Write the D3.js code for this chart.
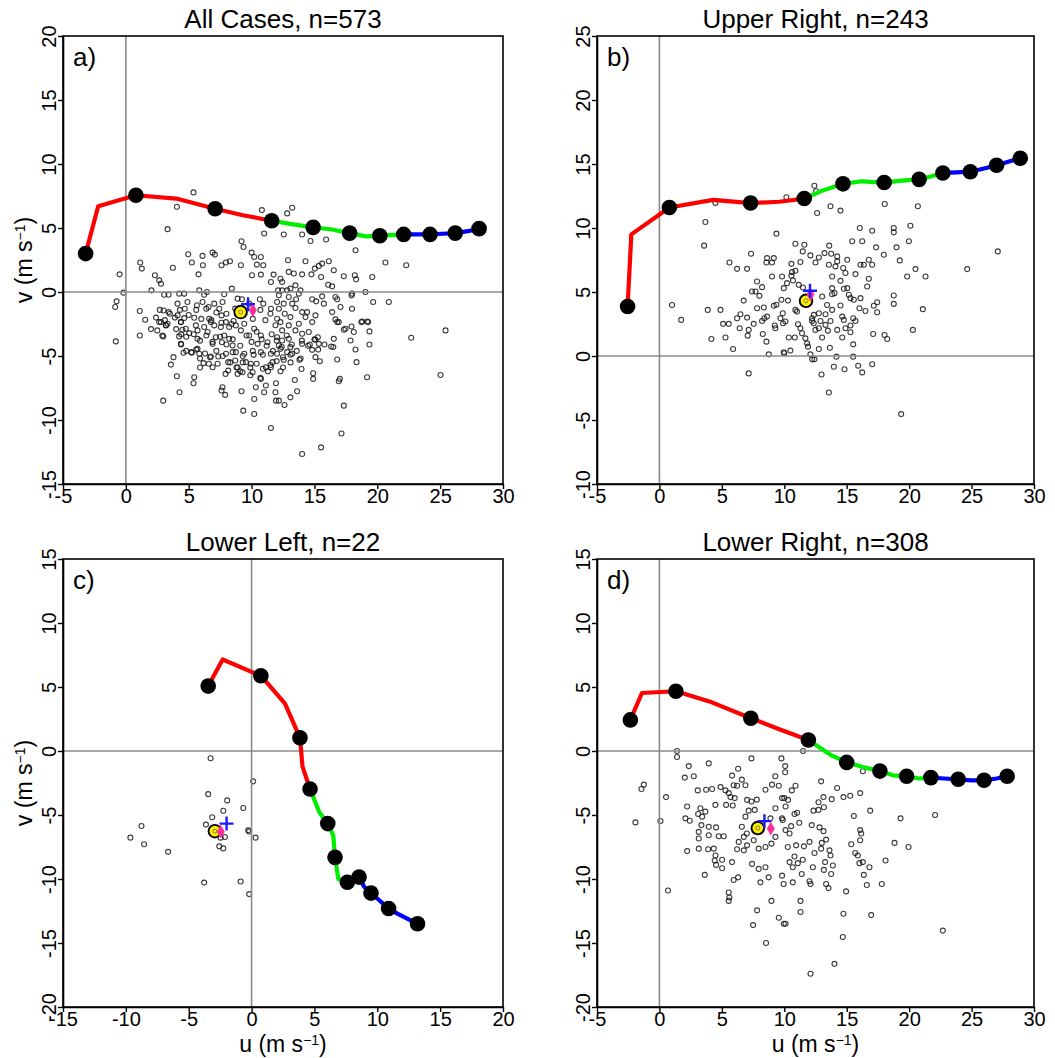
<!DOCTYPE html>
<html>
<head>
<meta charset="utf-8">
<script src="https://cdn.jsdelivr.net/npm/d3@7"></script>
<style>
  body { margin: 0; background: #fff; }
  svg { display: block; }
  text { font-family: "Liberation Sans", Arial, Helvetica, sans-serif; fill: #000; }
</style>
</head>
<body>
<svg id="chart" width="1055" height="1058"></svg>
<script>
// ---- panel text ----
const titles = ["All Cases, n=573", "Upper Right, n=243", "Lower Left, n=22", "Lower Right, n=308"];
const panelTags = ["a)", "b)", "c)", "d)"];

// ---- axis ranges and ticks (m/s) ----
const xDomains = [[-5, 30], [-5, 30], [-15, 20], [-5, 30]];
const yDomains = [[-15, 20], [-10, 25], [-20, 15], [-20, 15]];
const xTicksAll = [-5, 0, 5, 10, 15, 20, 25, 30];
const xTicksLL = [-15, -10, -5, 0, 5, 10, 15, 20];
const yTicksA = [-15, -10, -5, 0, 5, 10, 15, 20];
const yTicksB = [-10, -5, 0, 5, 10, 15, 20, 25];
const yTicksCD = [-20, -15, -10, -5, 0, 5, 10, 15];

// ---- mean hodographs, 0-10 km every 0.5 km (dots every 1 km) ----
const hodoAu = [-3.2, -2.2, 0.8, 4.0, 7.1, 9.3, 11.6, 13.2, 14.9, 16.3, 17.8, 19.1, 20.2, 21.1, 22.1, 23.1, 24.2, 25.2, 26.2, 27.2, 28.1];
const hodoAv = [3.0, 6.7, 7.56, 7.3, 6.5, 6.0, 5.57, 5.3, 5.05, 4.9, 4.6, 4.35, 4.4, 4.45, 4.5, 4.5, 4.5, 4.55, 4.6, 4.75, 4.95];
const hodoBu = [-2.55, -2.25, 0.8, 4.3, 7.3, 9.6, 11.6, 13.0, 14.7, 16.2, 18.0, 19.4, 20.8, 21.8, 22.7, 23.8, 24.9, 26.0, 27.0, 28.0, 28.9];
const hodoBv = [3.87, 9.5, 11.6, 12.2, 11.95, 12.05, 12.3, 12.9, 13.45, 13.65, 13.55, 13.7, 13.8, 14.05, 14.3, 14.35, 14.4, 14.65, 14.9, 15.2, 15.45];
const hodoCu = [-3.45, -2.3, 0.74, 2.66, 3.85, 4.05, 4.65, 5.4, 6.06, 6.5, 6.64, 6.9, 7.62, 8.1, 8.55, 8.95, 9.5, 10.2, 10.9, 11.6, 13.2];
const hodoCv = [5.07, 7.15, 5.88, 3.7, 1.03, -1.2, -2.97, -4.8, -5.67, -6.6, -8.31, -10.0, -10.25, -10.1, -9.85, -10.6, -11.1, -11.7, -12.3, -12.7, -13.5];
const hodoDu = [-2.33, -1.4, 1.32, 4.2, 7.32, 9.6, 11.93, 13.7, 15.0, 16.3, 17.66, 18.7, 19.8, 20.8, 21.74, 22.8, 23.93, 25.0, 26.0, 27.0, 27.85];
const hodoDv = [2.43, 4.53, 4.67, 3.8, 2.56, 1.7, 0.86, -0.3, -0.89, -1.25, -1.57, -1.9, -1.97, -2.15, -2.08, -2.15, -2.21, -2.3, -2.29, -2.15, -1.97];

// layer colours: 0-3 km, 3-7 km, 7-10 km
const layerColors = ["#ff0000", "#00ee00", "#0000ff"];
const layerBreaks = [0, 6, 14, 20];

// ---- storm-motion means ----
const meanYellow = [[9.13, -1.57], [11.74, 4.31], [-2.92, -6.26], [7.88, -6.02]];
const meanBlue = [[9.72, -0.95], [12.06, 5.1], [-1.99, -5.67], [8.41, -5.48]];
const meanPink = [[10.1, -1.42], [12.1, 4.8], [-2.45, -6.3], [8.92, -6.07]];

// ---- individual storm motions (u, v) ----
const scatterA = [
  [5.38,7.78],[4.06,6.66],[10.82,6.4],[11.0,4.57],[3.32,4.91],[9.2,3.97],[9.36,3.52],[4.96,2.95],[6.9,3.08],[7.08,2.92],
  [6.1,2.82],[1.14,2.3],[1.27,1.83],[3.74,1.9],[-0.5,1.38],[2.31,1.31],[2.65,0.91],[2.79,0.65],[2.04,0.13],[-0.19,-0.05],
  [5.25,2.3],[5.78,1.38],[6.13,2.09],[7.96,2.3],[8.28,2.4],[7.61,2.09],[9.15,2.09],[10.0,3.08],[10.21,2.74],[10.74,2.74],
  [10.42,2.14],[10.93,2.09],[10.03,1.31],[10.74,1.36],[11.54,0.78],[11.75,1.36],[-0.74,-0.73],[-0.85,-1.17],[1.11,-1.49],[1.54,-2.17],
  [3.05,-0.21],[3.4,-0.21],[4.24,-0.13],[4.11,-0.91],[4.9,-0.78],[4.64,-0.13],[5.84,0.13],[6.23,-0.21],[6.45,0],[6.1,-0.78],
  [5.65,-1.04],[6.58,-1.17],[7.03,-0.91],[7.69,-0.78],[7.82,-0.18],[8.43,0.26],[8.89,-0.52],[9.23,-0.57],[9.81,-0.91],[10.66,-0.57],
  [10.93,-0.91],[11.54,-1.31],[3.0,-1.44],[3.4,-1.57],[4.11,-1.83],[4.69,-1.31],[4.64,-2.04],[4.38,-2.35],[5.44,-2.01],[6.63,-2.09],
  [7.43,-1.31],[7.61,-1.83],[7.96,-2.35],[8.57,-2.27],[6.76,-2.35],[2.79,-2.35],
  [13.23,6.58],[12.83,6.14],[12.56,4.49],[14.02,4.49],[14.69,3.99],[15.93,4.1],[18.27,3.26],[20.65,2.3],[22.3,2.09],[12.9,2.48],
  [14.29,2.4],[15.35,2.04],[15.61,2.22],[16.14,2.4],[15.03,1.83],[14.76,1.38],[14.02,1.38],[13.36,1.44],[12.96,1.57],[12.3,1.04],
  [12.43,0.78],[15.53,1.17],[16.54,1.7],[17.34,1.23],[18.21,1.31],[18.32,0.99],[19.6,1.17],[16.09,0.57],[16.41,0.44],[18.0,-0.13],
  [19.06,0],[19.67,-0.78],[20.92,-0.78],[12.11,0.13],[12.43,0.13],[12.83,0.13],[13.09,0.26],[13.49,0.52],[13.89,0.13],[13.76,-0.13],
  [12.17,-0.26],[12.96,-0.39],[13.54,-0.57],[12.03,-0.78],[12.56,-0.91],[13.23,-0.91],[14.82,-0.57],[15.14,-0.73],[15.61,-0.34],[16.67,-0.39],
  [16.81,-0.57],[17.95,-0.26],[17.07,-1.17],[15.75,-0.91],[16.41,-1.57],[17.99,-1.31],[12.17,-1.31],[12.64,-1.7],[13.09,-1.96],[13.49,-1.25],
  [14.02,-1.57],[14.42,-1.57],[14.29,-1.96],[15.08,-1.83],[16.67,-2.14],[16.81,-2.35],[18.8,-2.3],[19.2,-2.3],[12.03,-2.09],[12.3,-2.35],
  [-0.8,-3.86],[1.11,-3.4],[2.97,-3.47],[4.24,-3.47],[4.38,-4.05],[4.59,-4.75],[3.79,-5.09],[3.58,-5.67],[4.06,-6.58],[4.27,-7.83],
  [2.97,-8.49],[5.44,-6.66],[5.38,-7.13],[5.25,-4.75],[5.7,-4.44],[5.84,-4.83],[6.18,-5.56],[6.76,-5.04],[6.9,-5.88],[7.35,-5.04],
  [6.9,-4.05],[5.7,-3.66],[5.04,-3.21],[4.77,-2.87],[5.7,-3.0],[6.5,-3.13],[7.16,-3.53],[7.64,-3.92],[7.82,-3.4],[8.22,-3.66],
  [8.49,-4.18],[8.75,-4.7],[7.96,-4.83],[8.14,-5.48],[7.93,-6.4],[8.14,-6.14],[8.89,-5.88],[8.7,-5.35],[9.42,-4.83],[9.55,-5.48],
  [9.95,-5.61],[10.16,-4.91],[10.74,-4.7],[10.48,-4.05],[9.81,-3.4],[9.15,-3.0],[8.75,-2.61],[9.42,-2.48],[10.21,-2.87],[10.74,-3.4],
  [11.27,-3.92],[11.54,-4.83],[11.67,-5.48],[11.54,-5.88],[11.14,-5.88],[10.74,-6.79],[10.08,-6.27],[9.28,-6.27],[8.89,-6.4],[7.61,-7.7],
  [7.9,-8.04],[7.69,-7.44],[9.2,-7.75],[10.21,-8.36],[10.34,-7.44],[11.0,-7.83],[11.14,-7.31],[11.94,-7.13],[11.94,-8.49],[9.34,-9.27],
  [10.21,-9.53],[11.54,-10.63],[2.65,-2.35],[3.18,-2.61],[3.32,-2.48],[4.5,-2.95],[5.57,-2.61],[6.23,-2.74],[7.03,-2.61],[7.56,-2.74],
  [8.22,-2.74],[4.38,-2.35],
  [25.43,-3.0],[22.7,-3.58],[25.03,-6.48],[19.38,-3.08],[19.38,-4.1],[19.19,-6.66],[18.27,-4.49],[18.35,-5.48],[17.87,-3.79],[18.13,-3.13],
  [18.74,-2.35],[19.27,-2.35],[17.47,-2.87],[17.95,-2.69],[17.34,-2.95],[16.81,-5.27],[17.02,-6.79],[16.94,-6.97],[17.34,-8.88],[17.15,-11.05],
  [15.53,-12.14],[14.02,-12.66],[16.54,-3.66],[16.33,-4.26],[15.35,-4.05],[15.08,-3.73],[15.27,-3.53],[14.82,-4.52],[15.08,-5.09],[15.43,-5.41],
  [14.9,-6.35],[14.9,-6.79],[13.97,-6.01],[13.81,-5.3],[13.44,-6.87],[13.62,-7.75],[13.09,-8.23],[12.62,-8.83],[12.17,-8.49],[12.56,-5.3],
  [12.3,-6.19],[14.02,-3.26],[14.63,-4.1],[14.55,-3.13],[13.49,-3.0],[12.96,-3.66],[12.43,-3.79],[12.17,-4.18],[13.09,-4.31],[12.83,-4.7],
  [13.23,-4.83],[14.02,-4.05],[12.43,-3.0],[12.96,-2.61],[12.03,-4.83],[12.3,-4.44],[12.03,-3.53],[13.76,-2.48],[14.82,-2.35],[16.94,-2.35],
  [11.9,-7.83],
  [2.4,-2.0],[2.7,-1.4],[3.1,-2.2],[3.5,-1.7],[3.9,-2.0],[4.3,-1.4],[5.0,-1.8],[5.6,-1.4],[6.0,-2.1],[6.4,-1.3],
  [6.8,-2.2],[7.2,-1.6],[7.6,-2.4],[8.0,-1.7],[8.4,-2.5],[8.7,-1.3],[10.1,-2.1],[10.7,-1.4],[11.1,-2.2],[11.5,-1.7],
  [11.9,-2.6],[2.0,-2.9],[2.9,-3.4],[2.5,-3.0],[3.2,-2.6],[4.0,-2.9],[4.4,-3.3],
  [4.8,-3.5],[5.4,-3.3],[5.9,-3.8],[6.4,-3.4],[6.9,-3.9],[7.5,-3.5],[8.0,-4.1],[8.5,-3.7],[9.1,-4.2],[9.6,-3.4],
  [10.0,-3.9],[10.4,-3.1],[10.8,-3.7],[11.2,-4.2],[11.6,-3.3],[12.0,-3.8],[12.4,-4.3],[12.8,-3.4],[13.2,-4.1],[13.6,-4.6],
  [14.0,-3.8],[14.5,-4.2],[15.0,-3.7],[15.3,-4.5],[15.8,-4.1],[16.5,-4.3],[4.4,-4.1],[4.8,-4.6],[5.6,-4.5],[6.3,-4.8],
  [7.2,-4.6],[7.7,-5.0],[8.5,-4.7],[9.3,-5.0],[10.1,-4.6],[10.9,-4.9],[11.7,-4.6],[12.5,-5.1],[13.1,-4.9],[13.9,-5.2],
  [5.2,-4.7],[5.9,-5.2],[6.7,-5.1],[7.3,-5.6],[8.3,-5.5],[8.8,-5.9],[9.3,-5.5],[9.9,-5.9],[10.4,-5.6],[10.9,-6.0],
  [11.5,-5.7],[12.0,-5.4],[12.5,-5.9],[13.1,-5.5],[10.7,-6.7],[11.3,-6.2],[9.1,-6.2],[9.9,-6.5],[5.9,-5.9],[6.6,-5.6]
];

const scatterB = [
  [4.48,11.96],[10.17,12.4],[12.41,13.3],[12.55,12.87],[12.63,11.17],[3.68,10.47],[3.58,8.62],[9.37,9.56],[10.89,8.77],[11.61,8.69],
  [11.48,8.17],[12.09,7.86],[7.34,7.99],[8.62,7.65],[9.16,7.65],[8.57,7.31],[9.02,7.31],[5.61,7.31],[6.22,6.81],[7.02,6.81],
  [10.57,7.2],[11.29,7.34],[10.89,6.66],[10.62,6.55],[9.02,6.21],[9.82,6.21],[10.57,6.27],[10.7,5.9],[10.22,5.69],[11.16,5.56],
  [11.5,5.35],[7.82,5.82],[8.22,5.38],[7.42,5.04],[7.69,5.04],[8.01,4.7],[9.96,5.3],[6.75,4.33],[7.82,3.73],[8.36,3.79],
  [9.16,3.92],[9.37,4.0],[9.77,4.39],[10.3,4.33],[10.89,3.6],[11.02,3.47],[1.01,3.99],[1.74,2.82],[3.87,3.6],[4.89,3.6],
  [5.1,2.51],[5.55,2.51],[4.16,1.33],[5.29,1.44],[5.9,0.55],[6.22,2.95],[6.49,3.26],[7.02,3.0],[6.43,2.17],[7.15,2.04],
  [7.07,1.59],[7.55,2.51],[8.22,2.74],[8.4,2.95],[8.62,3.08],[9.24,2.38],[9.29,2.17],[9.69,2.95],[9.88,3.34],[9.9,2.56],
  [10.09,2.69],[10.36,1.44],[10.84,1.44],[8.28,1.72],[8.57,1.12],[8.76,0.13],[9.96,0.29],[10.0,0.21],[10.49,0.42],[11.1,2.48],
  [11.29,2.17],[11.42,1.78],[11.69,1.38],[11.83,0.99],[11.9,0.73],[12.09,0.13],[12.41,-0.26],[7.15,-1.36],[12.23,2.95],[12.36,2.56],
  [12.49,2.04],
  [13.7,11.7],[14.5,11.36],[18.05,11.88],[20.7,11.7],[16.05,10.0],[17.04,9.79],[18.77,10.0],[18.77,9.66],[20.1,10.18],[15.44,8.96],
  [16.24,8.96],[17.36,8.49],[18.99,8.49],[19.98,8.96],[17.97,7.91],[19.25,7.47],[20.51,6.79],[24.65,6.79],[27.1,8.17],[19.84,6.21],
  [21.31,6.21],[13.6,8.62],[13.22,8.04],[13.76,7.99],[12.77,7.7],[12.5,7.31],[14.24,7.78],[15.04,7.52],[14.24,7.39],[13.57,7.13],
  [14.1,7.0],[14.72,6.87],[16.1,7.13],[16.37,7.13],[16.77,7.52],[17.04,7.13],[14.9,6.48],[15.7,6.4],[13.83,6.21],[16.77,6.03],
  [14.5,5.87],[16.64,5.43],[13.83,5.3],[14.77,5.25],[15.04,5.3],[14.02,4.91],[13.83,4.83],[13.03,4.65],[15.17,4.78],[15.57,4.39],
  [16.1,4.52],[15.3,4.52],[18.77,4.73],[18.77,4.07],[17.44,4.2],[17.17,3.92],[16.02,3.73],[16.5,3.52],[17.44,3.42],[21.1,3.66],
  [13.43,3.99],[13.83,3.6],[14.5,3.94],[12.77,3.34],[13.3,3.26],[12.37,3.21],[12.23,2.74],[12.9,2.74],[13.7,2.74],[13.3,2.43],
  [12.77,2.17],[13.49,1.98],[14.24,2.04],[14.64,3.08],[14.77,2.82],[14.9,2.17],[15.52,2.95],[15.7,2.74],[15.3,2.38],[15.3,1.85],
  [14.64,1.44],[17.12,1.72],[18.03,1.64],[18.24,1.33],[20.3,2.04],[13.03,1.44],[15.52,0.91],[12.77,0.55],[13.65,0.65],[12.23,-0.26],
  [14.18,-0.05],[15.52,-0.05],[13.97,-0.84],[14.82,-1.04],[15.92,-0.76],[16.24,-1.28],[17.04,-0.65],[12.98,-1.44],[13.57,-2.85],[19.36,-4.54]
];

const scatterC = [
  [-3.26,-0.57],[0.13,-2.37],[-3.45,-3.37],[-1.94,-3.86],[-2.25,-4.67],[-0.66,-4.45],[-3.13,-5.18],[-3.63,-5.75],[-8.76,-5.86],[-9.64,-6.77],
  [-8.55,-7.29],[-6.64,-7.88],[-0.19,-6.29],[-0.27,-6.2],[0.32,-6.77],[-2.12,-6.72],[-2.47,-6.77],[-2.57,-7.45],[-2.25,-7.61],[-3.77,-10.28],
  [-0.87,-10.2],[-0.19,-11.18]
];

const scatterD = [
  [1.41,0.0],[1.41,-0.47],[2.35,-1.18],[3.95,-0.97],[2.03,-2.08],[2.75,-1.97],[-1.25,-2.63],[-1.44,-2.97],[0.53,-3.6],[-1.92,-5.58],
  [0.08,-5.47],[0.69,-10.9],[7.37,-0.58],[9.77,-0.58],[6.3,-1.39],[5.82,-1.92],[6.6,-2.24],[5.95,-2.68],[6.22,-2.71],[6.89,-2.68],
  [3.07,-3.08],[3.74,-3.03],[4.22,-2.97],[4.89,-2.82],[5.29,-3.08],[5.55,-3.29],[5.69,-3.6],[6.03,-3.68],[5.34,-4.21],[5.87,-4.26],
  [4.48,-4.21],[3.28,-4.47],[3.68,-4.74],[3.42,-5.13],[3.1,-4.92],[2.22,-4.34],[2.08,-5.26],[2.43,-5.45],[3.36,-5.79],[3.95,-5.92],
  [4.54,-5.97],[3.15,-6.32],[3.95,-6.58],[4.75,-6.66],[5.15,-6.66],[3.15,-6.84],[2.22,-7.82],[3.15,-7.63],[3.9,-7.68],[4.35,-7.63],
  [4.49,-8.16],[4.43,-8.55],[4.54,-8.9],[5.02,-8.5],[5.02,-9.16],[3.63,-9.68],[5.82,-8.68],[5.95,-10.08],[6.3,-9.87],[5.55,-11.05],
  [5.6,-11.45],[5.55,-11.71],[6.35,-7.1],[6.22,-7.68],[6.76,-6.71],[7.0,-6.45],[6.6,-5.92],[6.89,-5.13],[7.15,-4.66],[7.63,-4.6],
  [7.37,-3.95],[7.8,-3.8],[7.02,-3.82],[8.49,-3.03],[9.02,-2.63],[9.28,-1.97],[9.56,-2.71],[9.82,-3.68],[10.1,-4.34],[9.29,-4.47],
  [8.89,-5.26],[9.82,-5.26],[10.1,-6.18],[9.29,-6.71],[8.97,-7.24],[8.49,-7.5],[7.95,-7.63],[7.55,-6.97],[7.02,-7.37],[6.76,-7.76],
  [7.42,-8.82],[7.95,-9.21],[8.49,-9.08],[8.75,-9.87],[9.82,-9.74],[9.95,-10.39],[8.09,-10.26],[8.97,-11.71],[7.82,-12.45],[9.56,-13.03],
  [7.5,-13.6],[8.54,-15.0],[10.1,-13.5],
  [11.5,0.0],[10.07,-1.18],[10.07,-1.66],[16.29,-1.58],[12.95,-2.37],[10.9,-2.71],[10.6,-3.08],[14.23,-2.89],[10.0,-3.68],[10.3,-3.82],
  [13.14,-3.6],[12.74,-4.0],[13.8,-3.76],[14.74,-3.6],[15.28,-3.5],[16.08,-3.29],[12.34,-4.66],[12.74,-4.6],[13.17,-4.4],[10.82,-4.92],
  [11.03,-4.82],[15.57,-5.08],[16.88,-4.66],[19.31,-5.26],[22.08,-5.0],[9.88,-5.39],[11.2,-5.6],[12.2,-5.79],[12.82,-5.97],[13.14,-6.26],
  [10.55,-5.87],[10.42,-6.45],[13.35,-6.92],[13.0,-7.18],[15.36,-7.29],[16.08,-6.18],[16.16,-6.45],[16.08,-6.97],[15.68,-7.97],[15.89,-8.16],
  [16.02,-8.76],[16.29,-8.68],[16.82,-9.08],[18.83,-7.18],[19.95,-7.5],[18.11,-8.55],[10.28,-7.5],[10.95,-7.37],[11.57,-7.45],[12.02,-7.1],
  [12.42,-7.97],[12.95,-7.63],[13.62,-7.76],[13.7,-8.16],[10.82,-8.24],[11.08,-8.76],[10.42,-8.68],[10.68,-9.08],[11.48,-8.5],[12.29,-9.08],
  [13.17,-9.29],[13.27,-8.68],[13.89,-8.95],[13.75,-9.61],[11.4,-9.61],[10.68,-10.26],[12.02,-10.18],[12.1,-10.39],[13.35,-10.39],[13.54,-10.71],
  [14.95,-10.97],[16.37,-9.68],[16.61,-10.47],[17.81,-10.39],[11.3,-11.71],[11.3,-12.58],[14.74,-12.71],[16.96,-12.82],[9.96,-13.5],[14.69,-14.53],
  [22.7,-14.03],[14.02,-16.63],[12.1,-17.4]
];

// ---- layout ----
const boxes = [
  { left: 63, right: 503, top: 36, bottom: 484 },
  { left: 597, right: 1034, top: 36, bottom: 484 },
  { left: 63, right: 503, top: 559, bottom: 1007 },
  { left: 597, right: 1034, top: 559, bottom: 1007 }
];

const panels = [
  { hu: hodoAu, hv: hodoAv, pts: scatterA, xt: xTicksAll, yt: yTicksA, ylab: true, xlab: false },
  { hu: hodoBu, hv: hodoBv, pts: scatterB, xt: xTicksAll, yt: yTicksB, ylab: false, xlab: false },
  { hu: hodoCu, hv: hodoCv, pts: scatterC, xt: xTicksLL, yt: yTicksCD, ylab: true, xlab: true },
  { hu: hodoDu, hv: hodoDv, pts: scatterD, xt: xTicksAll, yt: yTicksCD, ylab: false, xlab: true }
];

const svg = d3.select("#chart");
svg.append("rect").attr("width", 1055).attr("height", 1058).attr("fill", "#fff");

function unitLabel(sel, letter) {
  sel.append("tspan").text(letter + " (m s");
  sel.append("tspan").attr("font-size", 14).attr("dy", -7).text("\u22121");
  sel.append("tspan").attr("dy", 7).text(")");
}

const minus = d => (d < 0 ? "-" + Math.abs(d) : String(d));

panels.forEach((p, i) => {
  const b = boxes[i];
  const x = d3.scaleLinear().domain(xDomains[i]).range([b.left, b.right]);
  const y = d3.scaleLinear().domain(yDomains[i]).range([b.bottom, b.top]);
  const g = svg.append("g");

  // title and panel tag
  g.append("text").attr("x", (b.left + b.right) / 2).attr("y", b.top - 8)
    .attr("text-anchor", "middle").attr("font-size", 26).text(titles[i]);
  g.append("text").attr("x", b.left + 10).attr("y", b.top + 30)
    .attr("font-size", 26).text(panelTags[i]);

  // scatter of storm motions
  const clipId = "clip" + i;
  g.append("clipPath").attr("id", clipId).append("rect")
    .attr("x", b.left).attr("y", b.top).attr("width", b.right - b.left).attr("height", b.bottom - b.top);
  const inner = g.append("g").attr("clip-path", `url(#${clipId})`);

  inner.append("g").selectAll("circle").data(p.pts).join("circle")
    .attr("cx", d => x(d[0])).attr("cy", d => y(d[1])).attr("r", 2.5)
    .attr("fill", "none").attr("stroke", "#111").attr("stroke-opacity", 0.82).attr("stroke-width", 1.1);

  // zero reference lines
  inner.append("line").attr("x1", x(0)).attr("x2", x(0)).attr("y1", b.top).attr("y2", b.bottom)
    .attr("stroke", "#8a8a8a").attr("stroke-width", 1.6);
  inner.append("line").attr("x1", b.left).attr("x2", b.right).attr("y1", y(0)).attr("y2", y(0))
    .attr("stroke", "#8a8a8a").attr("stroke-width", 1.6);

  // hodograph in three colored layers
  const pts = p.hu.map((u, k) => [u, p.hv[k]]);
  const line = d3.line().x(d => x(d[0])).y(d => y(d[1]));
  layerColors.forEach((c, L) => {
    const seg = pts.slice(layerBreaks[L], layerBreaks[L + 1] + 1);
    inner.append("path").attr("d", line(seg)).attr("fill", "none")
      .attr("stroke", c).attr("stroke-width", 4.2).attr("stroke-linejoin", "round");
  });
  inner.append("g").selectAll("circle").data(pts.filter((d, k) => k % 2 === 0)).join("circle")
    .attr("cx", d => x(d[0])).attr("cy", d => y(d[1])).attr("r", 7.8).attr("fill", "#000");

  // mean storm motion markers
  const my = meanYellow[i], mb = meanBlue[i], mp = meanPink[i];
  inner.append("circle").attr("cx", x(my[0])).attr("cy", y(my[1])).attr("r", 6.3)
    .attr("fill", "#ffee00").attr("stroke", "#000").attr("stroke-width", 1.9);
  inner.append("circle").attr("cx", x(my[0])).attr("cy", y(my[1])).attr("r", 2)
    .attr("fill", "none").attr("stroke", "#555").attr("stroke-width", 0.7);
  inner.append("path").attr("d", d3.symbol(d3.symbolDiamond, 55)())
    .attr("transform", `translate(${x(mp[0])},${y(mp[1])})`).attr("fill", "#ff2f9a");
  inner.append("path")
    .attr("d", `M${x(mb[0]) - 7},${y(mb[1])}h14M${x(mb[0])},${y(mb[1]) - 7}v14`)
    .attr("stroke", "#1a1aff").attr("stroke-width", 2.4);

  // frame
  g.append("rect").attr("x", b.left).attr("y", b.top).attr("width", b.right - b.left)
    .attr("height", b.bottom - b.top).attr("fill", "none").attr("stroke", "#000").attr("stroke-width", 1.6);

  // axes
  const ax = g.append("g").attr("transform", `translate(0,${b.bottom})`)
    .call(d3.axisBottom(x).tickValues(p.xt).tickSize(5).tickSizeOuter(0).tickPadding(0).tickFormat(minus));
  const ay = g.append("g").attr("transform", `translate(${b.left},0)`)
    .call(d3.axisLeft(y).tickValues(p.yt).tickSize(5).tickSizeOuter(0).tickFormat(minus));
  [ax, ay].forEach(a => {
    a.select(".domain").attr("stroke", "#000").attr("stroke-width", 1.6);
    a.selectAll(".tick line").attr("stroke", "#000").attr("stroke-width", 1.4);
    a.selectAll(".tick text").attr("font-size", 20).attr("fill", "#000")
      .attr("font-family", "Liberation Sans, Arial, sans-serif");
  });
  ay.selectAll(".tick text")
    .attr("transform", "rotate(-90)").attr("x", 0).attr("y", -7).attr("dy", 0)
    .attr("text-anchor", "middle");

  // axis titles
  if (p.ylab) {
    const t = g.append("text").attr("font-size", 23).attr("text-anchor", "middle")
      .attr("transform", `translate(${b.left - 31},${(b.top + b.bottom) / 2}) rotate(-90)`);
    unitLabel(t, "v");
  }
  if (p.xlab) {
    const t = g.append("text").attr("font-size", 23).attr("text-anchor", "middle")
      .attr("x", (b.left + b.right) / 2).attr("y", b.bottom + 45);
    unitLabel(t, "u");
  }
});
</script>
</body>
</html>
